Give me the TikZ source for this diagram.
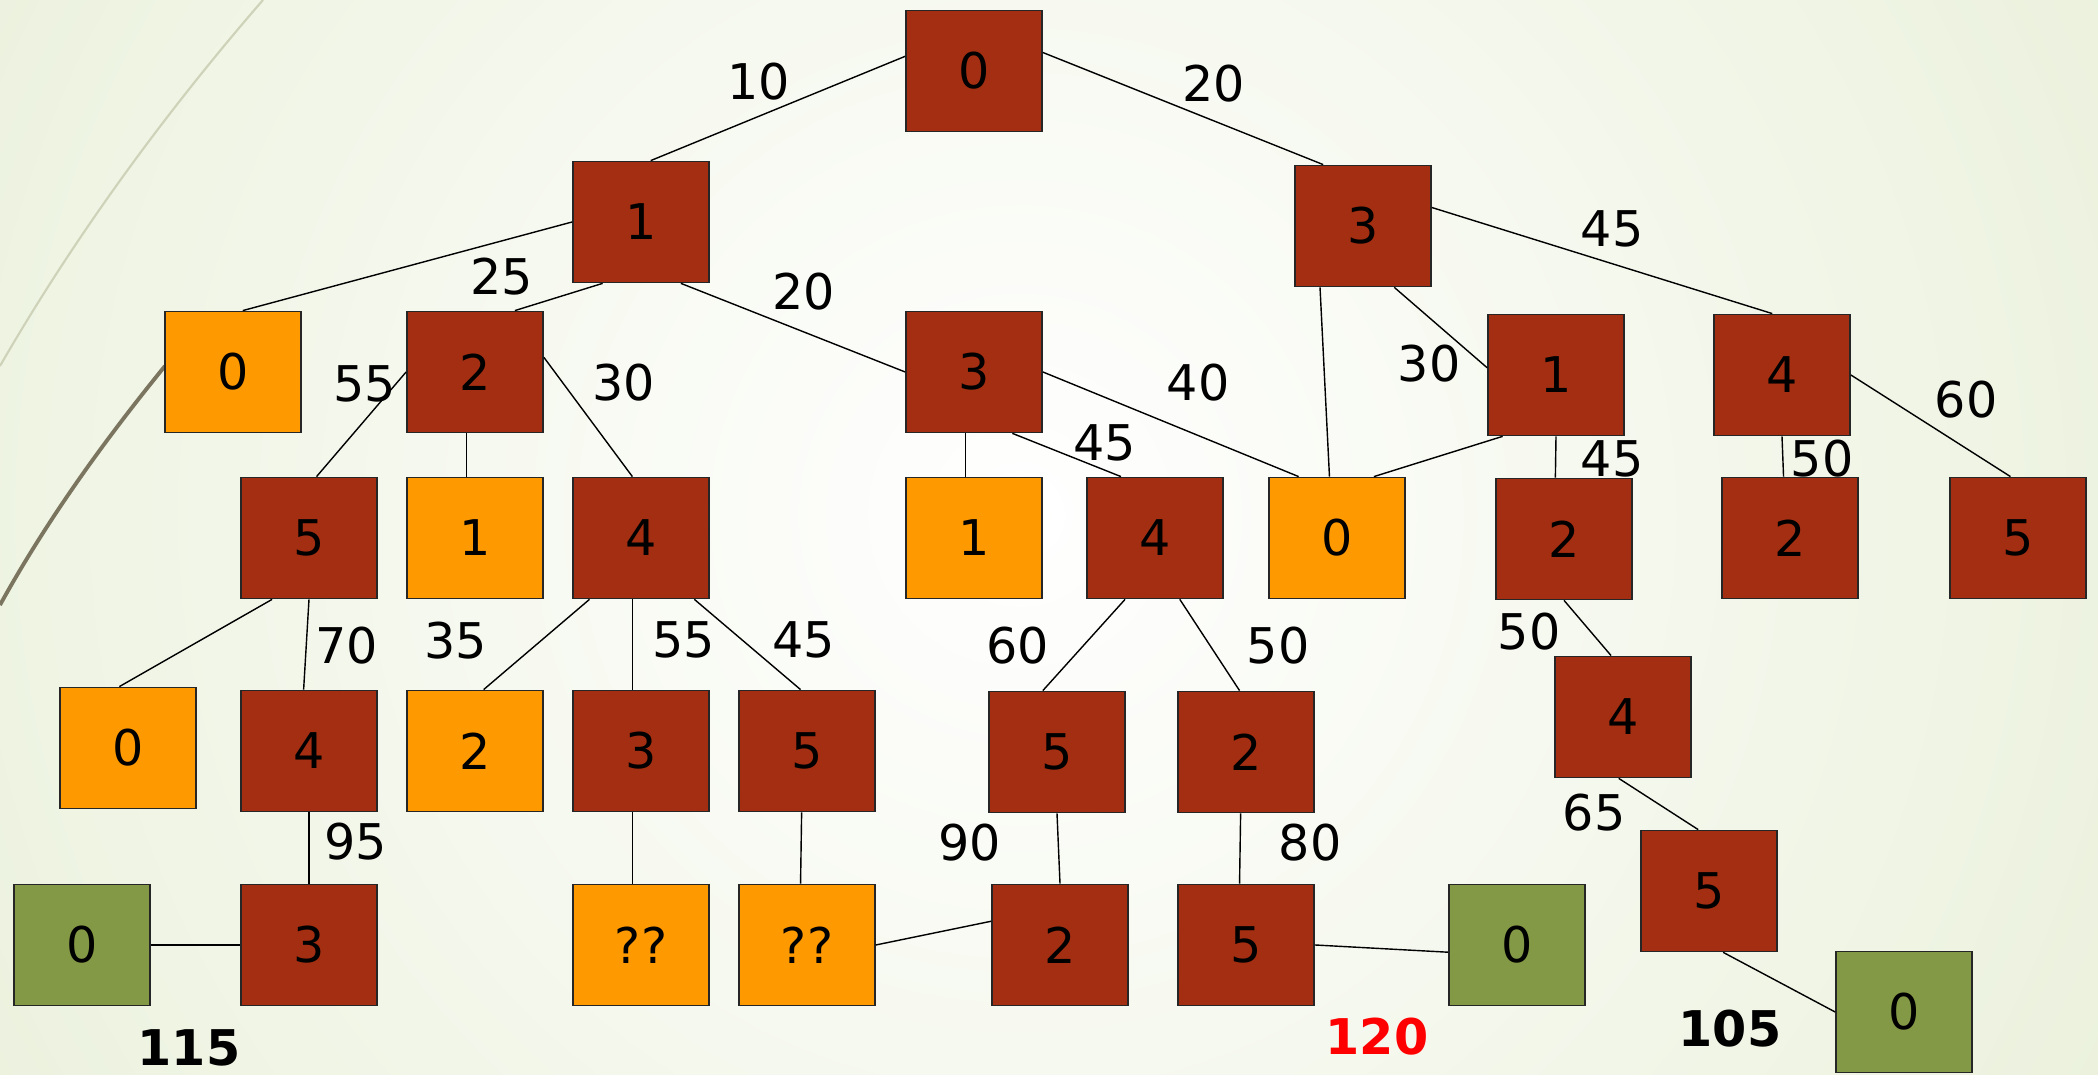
\documentclass[tikz,border=0pt]{standalone}
\usepackage{fontspec}
\setmainfont{DejaVu Sans}
\definecolor{bggreen}{RGB}{223,233,200}
\definecolor{brick}{RGB}{163,46,17}
\definecolor{amber}{RGB}{255,153,0}
\definecolor{olive}{RGB}{132,153,69}
\definecolor{arcdark}{RGB}{123,117,96}
\definecolor{arclight}{RGB}{205,210,184}
\tikzset{
  box/.style={draw=black!85,line width=0.5pt,minimum width=1.36cm,minimum height=1.21cm,inner sep=0pt},
  redbox/.style={box,fill=brick},
  orangebox/.style={box,fill=amber},
  greenbox/.style={box,fill=olive},
  total/.style={font=\fontsize{14}{16}\selectfont\bfseries}
}
\begin{document}
\begin{tikzpicture}[every node/.append style={font=\fontsize{14}{16}\selectfont}]
		\useasboundingbox (0,0) rectangle (20.98,10.75);
		% background
		\fill[bggreen] (0,0) rectangle (20.98,10.75);
		\begin{scope}
		\clip (0,0) rectangle (20.98,10.75);
		\shade[inner color=white,outer color=bggreen] (10.2,5.6) circle (19.5);
		\end{scope}
		\draw[arclight,line width=0.6pt] (2.63,10.75) .. controls (1.65,9.62) and (0.75,8.39) .. (0,7.09);
		\draw[arcdark,line width=1.1pt] (1.65,7.09) .. controls (1.04,6.34) and (0.47,5.55) .. (0,4.70);
		% level 0 and 1
		\node[redbox] (a) at (9.74,10.04) {0};
		\node[redbox] (b1) at (6.41,8.53) {1};
		\node[redbox] (b2) at (13.63,8.49) {3};
		% level 2
		\node[orangebox] (c1) at (2.33,7.03) {0};
		\node[redbox] (c2) at (4.75,7.03) {2};
		\node[redbox] (c3) at (9.74,7.03) {3};
		\node[redbox] (c4) at (15.56,7.00) {1};
		\node[redbox] (c5) at (17.82,7.00) {4};
		% level 3
		\node[redbox] (d1) at (3.09,5.37) {5};
		\node[orangebox] (d2) at (4.75,5.37) {1};
		\node[redbox] (d3) at (6.41,5.37) {4};
		\node[orangebox] (d4) at (9.74,5.37) {1};
		\node[redbox] (d5) at (11.55,5.37) {4};
		\node[orangebox] (d6) at (13.37,5.37) {0};
		\node[redbox] (d7) at (15.64,5.36) {2};
		\node[redbox] (d8) at (17.90,5.37) {2};
		\node[redbox] (d9) at (20.18,5.37) {5};
		% level 4
		\node[orangebox] (e1) at (1.28,3.27) {0};
		\node[redbox] (e2) at (3.09,3.24) {4};
		\node[orangebox] (e3) at (4.75,3.24) {2};
		\node[redbox] (e4) at (6.41,3.24) {3};
		\node[redbox] (e5) at (8.07,3.24) {5};
		\node[redbox] (e6) at (10.57,3.23) {5};
		\node[redbox] (e7) at (12.46,3.23) {2};
		\node[redbox] (e8) at (16.23,3.58) {4};
		% level 5 and 6
		\node[greenbox] (f1) at (0.82,1.30) {0};
		\node[redbox] (f2) at (3.09,1.30) {3};
		\node[orangebox] (f3) at (6.41,1.30) {??};
		\node[orangebox] (f4) at (8.07,1.30) {??};
		\node[redbox] (f5) at (10.60,1.30) {2};
		\node[redbox] (f6) at (12.46,1.30) {5};
		\node[greenbox] (f7) at (15.17,1.30) {0};
		\node[redbox] (f8) at (17.09,1.84) {5};
		\node[greenbox] (g1) at (19.04,0.63) {0};
		% edges
		\draw (a.168) -- (b1.81);
		\draw (a.15) -- (b2.123);
		\draw (b1.west) -- (c1.81);
		\draw (b1.238) -- (c2.57);
		\draw (b1.303) -- (c3.west);
		\draw (b2.235) -- (d6.97);
		\draw (b2.297) -- (c4.174);
		\draw (b2.15) -- (c5.99);
		\draw (c2.west) -- (d1.83);
		\draw (c2.262) -- (d2.98);
		\draw (c2.12) -- (d3.98);
		\draw (c3.262) -- (d4.98);
		\draw (c3.302) -- (d5.119);
		\draw (c3.east) -- (d6.122);
		\draw (c4.229) -- (d6.59);
		\draw (c4.south) -- (d7.98);
		\draw (c5.south) -- (d8.96);
		\draw (c5.east) -- (d9.97);
		\draw (d1.239) -- (e1.98);
		\draw (d1.south) -- (e2.95);
		\draw (d3.230) -- (e3.82);
		\draw (d3.262) -- (e4.98);
		\draw (d3.311) -- (e5.96);
		\draw (d5.244) -- (e6.103);
		\draw (d5.292) -- (e7.96);
		\draw (d7.south) -- (e8.101);
		\draw (e2.south) -- (f2.north);
		\draw (e4.262) -- (f3.98);
		\draw (e5.265) -- (f4.96);
		\draw (e6.south) -- (f5.north);
		\draw (e7.265) -- (f6.96);
		\draw (e8.266) -- (f8.100);
		\draw (f2.west) -- (f1.east);
		\draw (f4.east) -- (f5.161);
		\draw (f6.east) -- (f7.186);
		\draw (f8.283) -- (g1.west);
		% costs
		\draw(7.59,9.93)node{10};
		\draw(12.14,9.91)node{20};
		\draw(5.02,7.98)node{25};
		\draw(8.04,7.83)node{20};
		\draw(16.12,8.46)node{45};
		\draw(3.65,6.91)node{55};
		\draw(6.24,6.92)node{30};
		\draw(11.98,6.92)node{40};
		\draw(14.29,7.11)node{30};
		\draw(11.05,6.32)node{45};
		\draw(16.12,6.16)node{45};
		\draw(18.22,6.16)node{50};
		\draw(19.66,6.75)node{60};
		\draw(3.47,4.29)node{70};
		\draw(4.56,4.34)node{35};
		\draw(6.84,4.35)node{55};
		\draw(8.04,4.35)node{45};
		\draw(10.18,4.29)node{60};
		\draw(12.78,4.29)node{50};
		\draw(15.29,4.43)node{50};
		\draw(3.56,2.33)node{95};
		\draw(9.70,2.32)node{90};
		\draw(13.10,2.32)node{80};
		\draw(15.94,2.62)node{65};
		% path totals
		\node[total] (t1) at (1.89,0.27) {115};
		\node[total,text=red] (t2) at (13.77,0.38) {120};
		\node[total] (t3) at (17.30,0.46) {105};
	    \end{tikzpicture}
\end{document}
